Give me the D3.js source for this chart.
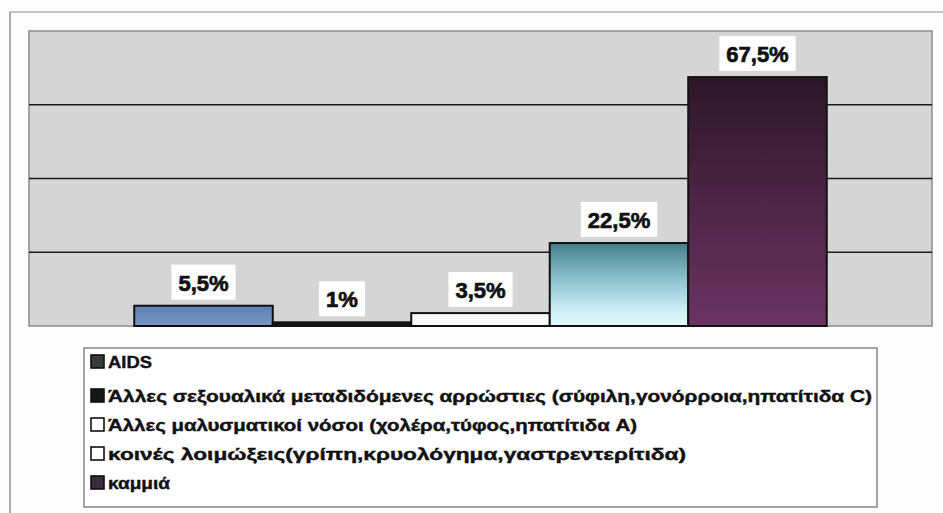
<!DOCTYPE html>
<html>
<head>
<meta charset="utf-8">
<script src="https://cdn.jsdelivr.net/npm/d3@7"></script>
<style>
  html, body { margin: 0; padding: 0; background: #fdfdfd; }
  svg { display: block; }
</style>
</head>
<body>
<svg id="chart" width="943" height="513"></svg>
<script>
// Series of the single category and their percentages
const series = [
  "AIDS",
  "Άλλες σεξουαλικά μεταδιδόμενες αρρώστιες (σύφιλη,γονόρροια,ηπατίτιδα C)",
  "Άλλες μαλυσματικοί νόσοι (χολέρα,τύφος,ηπατίτιδα A)",
  "κοινές λοιμώξεις(γρίπη,κρυολόγημα,γαστρεντερίτιδα)",
  "καμμιά"
];
const values = [5.5, 1, 3.5, 22.5, 67.5];
const valueLabels = ["5,5%", "1%", "3,5%", "22,5%", "67,5%"];
const gridTicks = [0, 20, 40, 60, 80];

const svg = d3.select("#chart");
const W = 943, H = 513;
const plot = { left: 29, right: 932, top: 31, bottom: 326 };

// gradients for the fills
const defs = svg.append("defs");
function vGrad(id, stops) {
  const g = defs.append("linearGradient").attr("id", id)
    .attr("x1", 0).attr("y1", 0).attr("x2", 0).attr("y2", 1);
  stops.forEach(([o, c]) => g.append("stop").attr("offset", o).attr("stop-color", c));
}
vGrad("gBlue", [[0, "#5f7fae"], [1, "#7896c6"]]);
vGrad("gCyan", [[0, "#437f8b"], [0.45, "#8ec3cf"], [0.8, "#cdeef6"], [1, "#e2f9fd"]]);
vGrad("gPurple", [[0, "#2c1727"], [0.5, "#4d2545"], [1, "#6a3462"]]);

const fills = ["url(#gBlue)", "#141414", "#fbfbfb", "url(#gCyan)", "url(#gPurple)"];
const swatch = ["#3a3a3a", "#151515", "#ffffff", "#ffffff", "#3b2c3c"];

// outer chart frame
svg.append("line").attr("x1", 10).attr("x2", W).attr("y1", 12).attr("y2", 12)
  .attr("stroke", "#8a8a8a").attr("stroke-width", 1.2);
svg.append("line").attr("x1", 10).attr("x2", 10).attr("y1", 12).attr("y2", H)
  .attr("stroke", "#777").attr("stroke-width", 1.2);

// scales
const x = d3.scaleBand().domain(d3.range(series.length))
  .range([plot.left, plot.right]).paddingInner(0).paddingOuter(0.76);
const y = d3.scaleLinear().domain([0, 80]).range([plot.bottom, plot.top]);

// plot area
svg.append("rect")
  .attr("x", plot.left).attr("y", plot.top)
  .attr("width", plot.right - plot.left).attr("height", plot.bottom - plot.top)
  .attr("fill", "#d5d5d5").attr("stroke", "#8c8c8c").attr("stroke-width", 1.5);

// gridlines
svg.append("g").selectAll("line")
  .data(gridTicks.filter(t => t > 0 && t < 80))
  .join("line")
  .attr("x1", plot.left).attr("x2", plot.right)
  .attr("y1", d => y(d)).attr("y2", d => y(d))
  .attr("stroke", "#1a1a1a").attr("stroke-width", 1.6);

// bars
svg.append("g").selectAll("rect")
  .data(values)
  .join("rect")
  .attr("x", (d, i) => x(i))
  .attr("y", d => y(d))
  .attr("width", x.bandwidth())
  .attr("height", d => y(0) - y(d))
  .attr("fill", (d, i) => fills[i])
  .attr("stroke", "#111")
  .attr("stroke-width", 2);

// value labels on white boxes
const lab = svg.append("g").selectAll("g")
  .data(values)
  .join("g")
  .attr("transform", (d, i) => `translate(${x(i) + x.bandwidth() / 2},${y(d) - 23})`);
lab.append("text")
  .text((d, i) => valueLabels[i])
  .attr("text-anchor", "middle")
  .attr("dy", "0.36em")
  .attr("font-family", "Liberation Sans, Arial, sans-serif")
  .attr("font-weight", "bold")
  .attr("font-size", 22)
  .attr("fill", "#111")
  .attr("stroke", "#111")
  .attr("stroke-width", 0.7)
  .each(function () {
    const b = this.getBBox();
    d3.select(this.parentNode).insert("rect", "text")
      .attr("x", b.x - 7).attr("y", b.y - 6)
      .attr("width", b.width + 14).attr("height", b.height + 10)
      .attr("fill", "#ffffff");
  });

// legend
const legend = { left: 84, right: 877, top: 348, bottom: 507 };
svg.append("rect")
  .attr("x", legend.left).attr("y", legend.top)
  .attr("width", legend.right - legend.left).attr("height", legend.bottom - legend.top)
  .attr("fill", "#ffffff").attr("stroke", "#6a6a6a").attr("stroke-width", 1.2);

const rowY = [362, 396, 425, 454, 483];
const rowWidth = [44, 764, 529, 578, 62];
const items = svg.append("g").selectAll("g")
  .data(series)
  .join("g")
  .attr("transform", (d, i) => `translate(91,${rowY[i]})`);
items.append("rect")
  .attr("x", 0).attr("y", -7).attr("width", 13).attr("height", 13)
  .attr("fill", (d, i) => swatch[i])
  .attr("stroke", "#111").attr("stroke-width", 1.6);
items.append("text")
  .text(d => d)
  .attr("x", 17)
  .attr("dy", "0.36em")
  .attr("font-family", "Liberation Sans, Arial, sans-serif")
  .attr("font-weight", "bold")
  .attr("font-size", 16)
  .attr("fill", "#111")
  .attr("stroke", "#111")
  .attr("stroke-width", 0.4)
  .attr("textLength", (d, i) => rowWidth[i])
  .attr("lengthAdjust", "spacingAndGlyphs");
</script>
</body>
</html>
